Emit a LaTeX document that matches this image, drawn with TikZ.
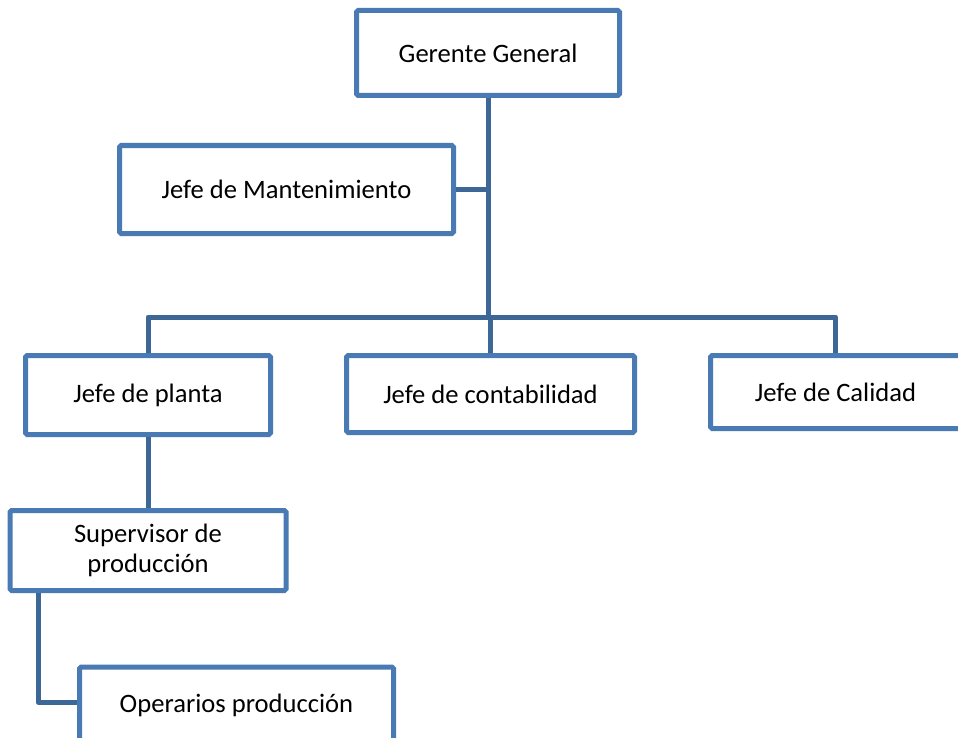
\documentclass[tikz,border=0pt]{standalone}
\usepackage{fontspec}
\setmainfont{Carlito}
\definecolor{boxblue}{HTML}{4A7AB3}
\definecolor{linkblue}{HTML}{3D6797}
\begin{document}
\begin{tikzpicture}[x=0.5pt, y=-0.5pt,
  post/.style={draw=boxblue, line width=2.5pt, fill=white, rounded corners=0.8pt,
    align=center, inner sep=0pt, font=\fontsize{13.3}{14.8}\selectfont},
  link/.style={draw=linkblue, line width=2.5pt, line join=round}]
\useasboundingbox (0, 0) rectangle (958, 738);

\node [post, minimum width=263*0.5pt, minimum height=85*0.5pt] (gerente) at (488, 53) {Gerente General};
\node [post, minimum width=334*0.5pt, minimum height=88*0.5pt] (mant) at (286.5, 189.5) {Jefe de Mantenimiento};
\node [post, minimum width=245*0.5pt, minimum height=79*0.5pt] (planta) at (148, 395) {Jefe de planta};
\node [post, minimum width=288*0.5pt, minimum height=77*0.5pt] (conta) at (490.5, 394) {Jefe de contabilidad};
\node [post, minimum width=250*0.5pt, minimum height=73*0.5pt] (calidad) at (835.5, 392) {Jefe de Calidad};
\node [post, minimum width=276*0.5pt, minimum height=80*0.5pt] (super) at (148, 550.5) {Supervisor de\\producción};
\node [post, minimum width=314*0.5pt, minimum height=76*0.5pt] (oper) at (236.5, 705) {Operarios producción};

\coordinate (bar) at (488, 317);
\coordinate (bend) at (38, 702);

\draw [link] (gerente.south) -- (bar);
\draw [link] (mant.east) -- (mant.east -| bar);
\draw [link] (planta.north) |- (bar) -| (calidad.north);
\draw [link] (conta.north) -- (conta.north |- bar);
\draw [link] (planta.south) -- (super.north);
\draw [link] (super.south -| bend) -- (bend) -- (bend -| oper.west);
\end{tikzpicture}
\end{document}
